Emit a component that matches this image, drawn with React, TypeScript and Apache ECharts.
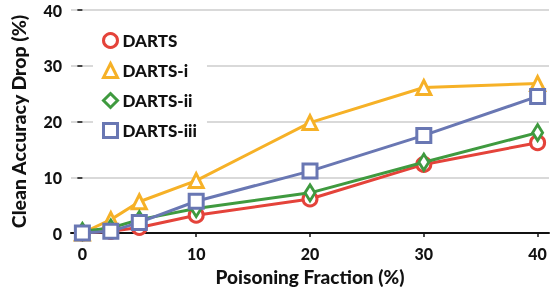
import React, { useEffect, useRef } from "react";
import * as echarts from "echarts";

const xValues = [0, 2.5, 5, 10, 20, 30, 40];
const seriesNames = ["DARTS", "DARTS-i", "DARTS-ii", "DARTS-iii"];
const darts = [0, 0.3, 1.0, 3.2, 6.1, 12.3, 16.2];
const dartsI = [0, 2.4, 5.6, 9.4, 19.8, 26.1, 26.8];
const dartsII = [0.3, 0.9, 2.4, 4.4, 7.2, 12.7, 18.0];
const dartsIII = [0, 0.3, 1.9, 5.7, 11.1, 17.5, 24.5];
const xTicks = [0, 10, 20, 30, 40];

const colors = ["#e4433a", "#f6b127", "#3f9a3f", "#6977b3"];
const symbols = ["circle", "triangle", "diamond", "rect"];
const allData = [darts, dartsI, dartsII, dartsIII];

export default function App() {
  const ref = useRef<HTMLDivElement>(null);
  useEffect(() => {
    if (!ref.current) return;
    const chart = echarts.init(ref.current, undefined, { renderer: "svg" });
    const font = "Lato";
    chart.setOption({
      animation: false,
      textStyle: { fontFamily: font },
      grid: { left: 67, right: 7, top: 10, bottom: 54, containLabel: false },
      xAxis: {
        type: "value",
        min: -1,
        max: 41,
        offset: 6,
        name: "Poisoning Fraction (%)",
        nameLocation: "middle",
        nameGap: 28,
        nameTextStyle: { fontFamily: font, fontWeight: 900, fontSize: 19, color: "#111" },
        axisLine: { show: true, lineStyle: { color: "#111", width: 2 } },
        axisTick: { show: true, customValues: xTicks, length: 4, lineStyle: { color: "#111", width: 1.5 } },
        axisLabel: { customValues: xTicks, fontFamily: font, fontWeight: 900, fontSize: 16, color: "#111", margin: 6 },
        splitLine: { show: false },
      },
      yAxis: {
        type: "value",
        min: 0,
        max: 40,
        interval: 10,
        name: "Clean Accuracy Drop (%)",
        nameLocation: "middle",
        nameGap: 43,
        nameTextStyle: { fontFamily: font, fontWeight: 900, fontSize: 19.5, color: "#111" },
        axisLine: { show: false },
        axisTick: { show: true, length: 5, lineStyle: { color: "#111", width: 1.5 } },
        axisLabel: { fontFamily: font, fontWeight: 900, fontSize: 16, color: "#111", margin: 9 },
        splitLine: { show: true, lineStyle: { color: "#d9d9d9", width: 2 } },
      },
      legend: {
        orient: "vertical",
        left: 93,
        top: 27,
        padding: [5, 10, 5, 9],
        backgroundColor: "#fff",
        itemGap: 13,
        itemWidth: 14,
        itemHeight: 14,
        itemStyle: { borderWidth: 3 },
        textStyle: { fontFamily: font, fontWeight: 900, fontSize: 17, color: "#111" },
        data: seriesNames.map((n, i) => ({ name: n, icon: symbols[i] })),
      },
      series: seriesNames.map((n, i) => ({
        name: n,
        type: "line",
        data: xValues.map((x, j) => [x, allData[i][j]]),
        symbol: symbols[i],
        symbolSize: symbols[i] === "diamond" ? [10, 16] : 14,
        lineStyle: { color: colors[i], width: 3 },
        itemStyle: { color: "#fff", borderColor: colors[i], borderWidth: 3 },
        z: 2 + i,
      })),
    });
    return () => chart.dispose();
  }, []);
  return <div ref={ref} style={{ position: "fixed", left: 0, top: 0, width: 556, height: 291 }} />;
}
